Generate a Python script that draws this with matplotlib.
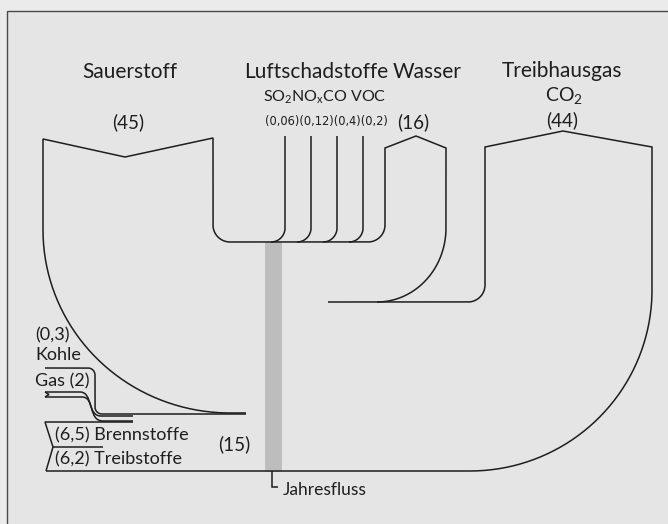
import numpy as np
import matplotlib
matplotlib.use("Agg")
import matplotlib.pyplot as plt
from matplotlib.path import Path
from matplotlib.patches import PathPatch, Rectangle
from matplotlib import font_manager

# ---------------- data ----------------
inflow_names = ["Sauerstoff", "Kohle", "Gas", "Brennstoffe", "Treibstoffe"]
inflow_values = [45, 0.3, 2, 6.5, 6.2]
fuel_total = 15
pollutant_names = ["SO$_2$", "NO$_\\mathrm{x}$", "CO", "VOC"]
pollutant_values = [0.06, 0.12, 0.4, 0.2]
outflow_names = ["Luftschadstoffe", "Wasser", "Treibhausgas"]
water_value = 16
co2_value = 44
co2_label = "CO$_2$"
stock_label = "Jahresfluss"


def fmt(v):
    return "(" + f"{v:g}".replace(".", ",") + ")"


# ---------------- style ----------------
plt.rcParams["font.family"] = ["Lato", "DejaVu Sans"]
plt.rcParams["mathtext.fontset"] = "custom"
plt.rcParams["mathtext.rm"] = "Lato"
plt.rcParams["mathtext.it"] = "Lato:italic"
plt.rcParams["mathtext.bf"] = "Lato:bold"

# look for a condensed face for the narrow value row
cond_family, cond_stretch = "Lato", "normal"
for f in font_manager.fontManager.ttflist:
    if f.name == "DejaVu Sans" and str(f.stretch) == "condensed" and f.style == "normal":
        cond_family, cond_stretch = "DejaVu Sans", "condensed"
        break

INK = "#1e1e1e"
LW = 1.1

fig = plt.figure(figsize=(6.68, 5.24), dpi=100, facecolor="#ebebeb")
ax = fig.add_axes([0, 0, 1, 1])
ax.set_xlim(0, 668)
ax.set_ylim(524, 0)
ax.axis("off")

# frame
ax.add_patch(Rectangle((7, 11), 700, 560, facecolor="#e5e5e5",
                       edgecolor="#4a4a4a", lw=1.0, zorder=0))


def arc(cx, cy, rx, ry, a0, a1, n=80):
    t = np.radians(np.linspace(a0, a1, n))
    return np.column_stack([cx + rx * np.cos(t), cy + ry * np.sin(t)])


def poly(*parts):
    pts = []
    for p in parts:
        pts.extend([tuple(q) for q in np.atleast_2d(p)])
    a = np.array(pts)
    ax.plot(a[:, 0], a[:, 1], color=INK, lw=LW, solid_capstyle="butt",
            solid_joinstyle="miter", zorder=3)


def bez(items):
    v, c = [], []
    for kind, pts in items:
        if kind == "M":
            v.append(pts); c.append(Path.MOVETO)
        elif kind == "L":
            v.append(pts); c.append(Path.LINETO)
        elif kind == "C":
            v.extend(pts); c.extend([Path.CURVE4] * 3)
    ax.add_patch(PathPatch(Path(v, c), facecolor="none", edgecolor=INK,
                           lw=LW, zorder=3))


# Jahresfluss bar
ax.add_patch(Rectangle((265, 242), 16, 229, facecolor="#bdbdbd",
                       edgecolor="#b0b0b0", lw=0.4, zorder=2))

# Sauerstoff + Luftschadstoffe base + Wasser
poly([(246, 413), (230, 413)],
     arc(230, 230, 187, 183, 90, 180),
     [(43, 139), (125, 157), (213, 138), (213, 225)],
     arc(230, 225, 17, 17, 180, 90),
     [(368, 242)],
     arc(368, 225, 17, 17, 90, 0),
     [(385, 148), (416, 136), (446, 148), (446, 228)],
     arc(377, 228, 69, 74, 0, 90))

# Luftschadstoffe single lines
lx = [285, 311, 337, 363]
for x in lx:
    poly([(x, 136), (x, 228)], arc(x - 14, 228, 14, 14, 0, 90))

# CO2 outline + bottom line
poly([(328, 302), (468, 302)],
     arc(468, 285, 17, 17, 90, 0),
     [(485, 147), (563, 131), (652, 147), (652, 290)],
     arc(470, 290, 182, 181, 0, 90),
     [(46, 471)])

# fuels: gas / kohle
poly([(45, 368), (88, 368)], arc(88, 375, 7, 7, -90, 0),
     [(95, 407)], arc(102, 407, 7, 7, 180, 90), [(246, 414)])
bez([("M", (45, 392)), ("L", (80, 392)),
     ("C", [(93, 392), (87, 416), (101, 416)]), ("L", (133, 416))])
bez([("M", (45, 397)), ("L", (82, 397)),
     ("C", [(95, 397), (88, 421), (103, 421)]), ("L", (133, 421))])
poly([(45, 392), (49, 394.5), (45, 397)])

# fuels: Brennstoffe / Treibstoffe
poly([(133, 422), (45, 422), (53, 447), (46, 471)])
poly([(53, 447), (103, 447)])

# Jahresfluss bracket
poly([(272, 471), (272, 487), (278, 487)])

# ---------------- texts ----------------
big = 15
mid = 13.5
small = 13
ax.text(130, 72, inflow_names[0], fontsize=big, ha="center", va="center", color=INK)
ax.text(316, 72, outflow_names[0], fontsize=big, ha="center", va="center", color=INK)
ax.text(427, 72, outflow_names[1], fontsize=big, ha="center", va="center", color=INK)
ax.text(562, 71, outflow_names[2], fontsize=big, ha="center", va="center", color=INK)
ax.text(564, 96, co2_label, fontsize=14, ha="center", va="center", color=INK)
ax.text(562, 120, fmt(co2_value), fontsize=mid, ha="center", va="center", color=INK)
ax.text(128, 122, fmt(inflow_values[0]), fontsize=mid, ha="center", va="center", color=INK)
ax.text(413, 122, fmt(water_value), fontsize=mid, ha="center", va="center", color=INK)

pol_str = "".join(pollutant_names[:3]) + " " + pollutant_names[3]
ax.text(325, 97, pol_str, fontsize=11.5, ha="center", va="center", color=INK)
val_str = "".join(fmt(v) for v in pollutant_values)
ax.text(326, 122, val_str, fontsize=9.2, ha="center", va="center",
        color=INK, family=cond_family, fontstretch=cond_stretch)

ax.text(35, 335, fmt(inflow_values[1]), fontsize=small, ha="left", va="center", color=INK)
ax.text(35, 355, inflow_names[1], fontsize=small, ha="left", va="center", color=INK)
ax.text(35, 381, f"{inflow_names[2]} {fmt(inflow_values[2])}", fontsize=small,
        ha="left", va="center", color=INK)
ax.text(55, 435, f"{fmt(inflow_values[3])} {inflow_names[3]}", fontsize=small,
        ha="left", va="center", color=INK)
ax.text(55, 459, f"{fmt(inflow_values[4])} {inflow_names[4]}", fontsize=small,
        ha="left", va="center", color=INK)
ax.text(234, 444, fmt(fuel_total), fontsize=mid, ha="center", va="center", color=INK)
ax.text(283, 490, stock_label, fontsize=12.5, ha="left", va="center", color=INK)

fig.savefig("out.png", dpi=100, facecolor=fig.get_facecolor())
